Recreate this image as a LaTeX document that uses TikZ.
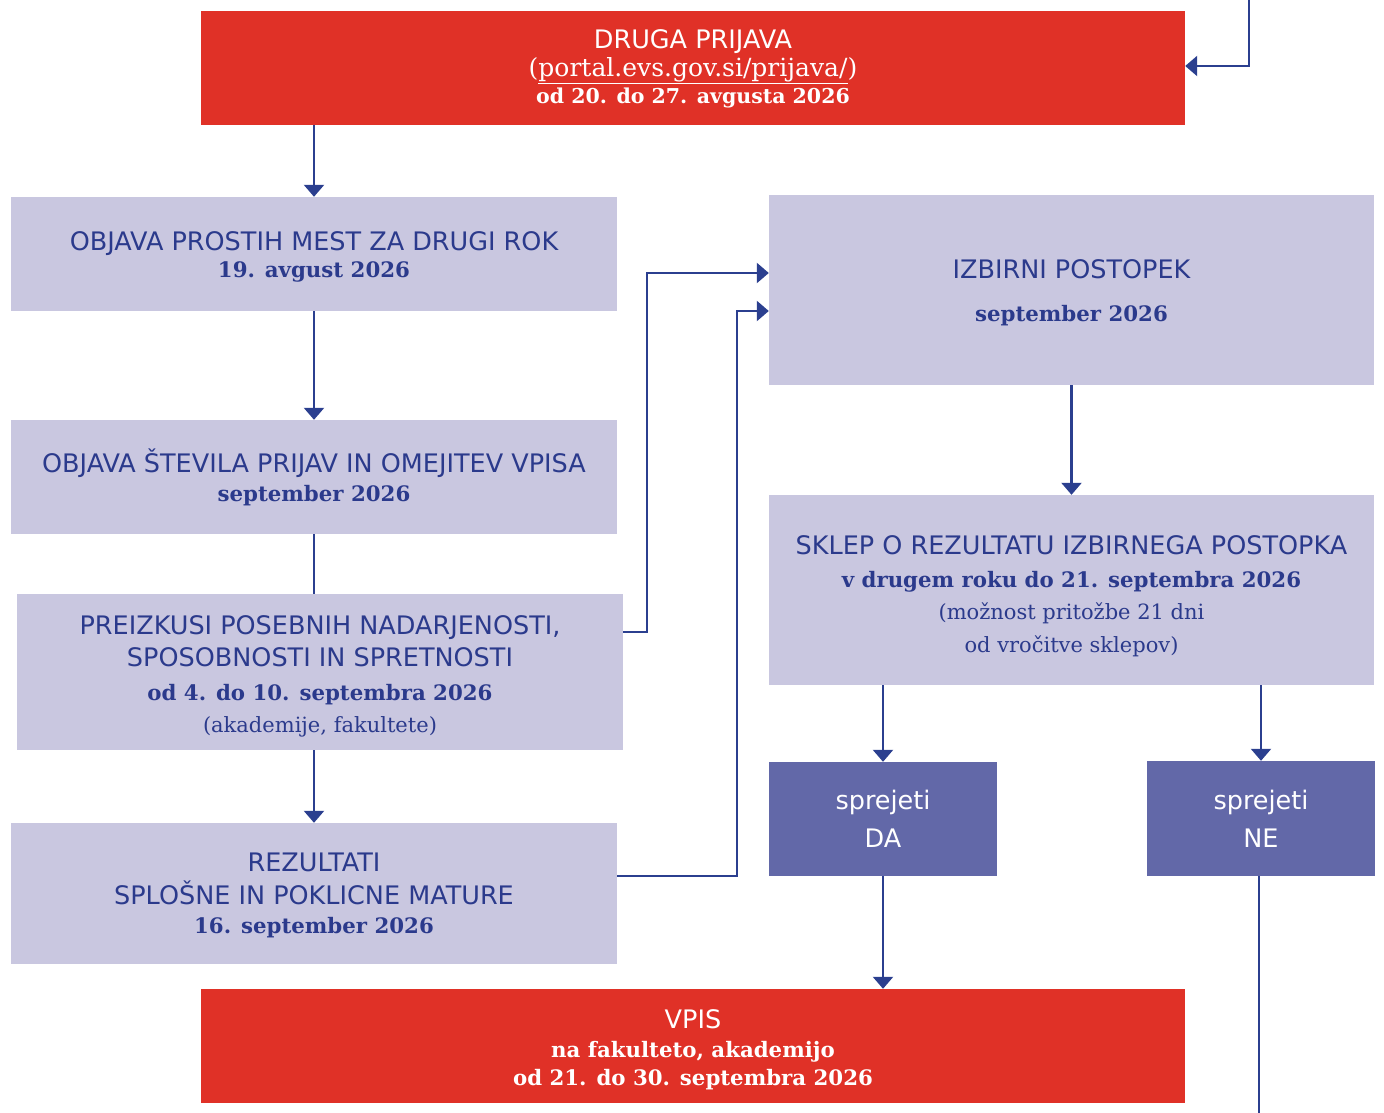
\documentclass[tikz,border=0pt]{standalone}
\usepackage{fontspec}
\setmainfont{DejaVu Serif}
\setsansfont{DejaVu Sans}
\usetikzlibrary{arrows.meta}
\definecolor{redbox}{HTML}{E03127}
\definecolor{lav}{HTML}{C9C7E0}
\definecolor{darkbox}{HTML}{6268A8}
\definecolor{navy}{HTML}{2B3F8F}
\definecolor{txt}{HTML}{2B3A8C}
\tikzset{
  x=1pt,y=-1pt,
  boxbase/.style={inner sep=0pt},
  redb/.style={boxbase,fill=redbox},
  lavb/.style={boxbase,fill=lav},
  darkb/.style={boxbase,fill=darkbox},
  txtbase/.style={inner sep=0pt,align=center,font=\fontsize{22}{29}\selectfont},
  wtxt/.style={txtbase,text=white},
  btxt/.style={txtbase,text=txt},
  conn/.style={draw=navy,line width=2.4pt},
  arr/.style={conn,-{Triangle[width=20pt,length=12pt]}},
}
\newcommand{\sfl}{\sffamily\fontsize{25.5}{29}\selectfont}
\newcommand{\sel}{\rmfamily\fontsize{21}{29}\selectfont}
\newcommand{\sbl}{\rmfamily\bfseries\fontsize{21.3}{29}\selectfont}
\newcommand{\linkfont}{\rmfamily\fontsize{25}{29}\selectfont}
\begin{document}
\begin{tikzpicture}
\useasboundingbox (0,0) rectangle (1384,1113);
% boxes
\node[redb,minimum width=984pt,minimum height=114pt] (drug) at (693,68) {};
\node[lavb,minimum width=606pt,minimum height=114pt] (obj1) at (314,254) {};
\node[lavb,minimum width=606pt,minimum height=114pt] (obj2) at (314,477) {};
\node[lavb,minimum width=606pt,minimum height=156pt] (prei) at (320,672) {};
\node[lavb,minimum width=606pt,minimum height=141pt] (rez) at (314,893.5) {};
\node[lavb,minimum width=605pt,minimum height=190pt] (izb) at (1071.5,290) {};
\node[lavb,minimum width=605pt,minimum height=190pt] (skl) at (1071.5,590) {};
\node[darkb,minimum width=228pt,minimum height=114pt] (da) at (883,819) {};
\node[darkb,minimum width=228pt,minimum height=115pt] (ne) at (1261,818.5) {};
\node[redb,minimum width=984pt,minimum height=114pt] (vpis) at (693,1046) {};
% texts
\node[wtxt] (drugt) at ([yshift=-1pt]drug.center)
  {\sfl DRUGA PRIJAVA\\[-1pt]\linkfont (\underline{portal.evs.gov.si/prijava/})\\[-2pt]\rmfamily\bfseries\fontsize{20.5}{29}\selectfont od 20. do 27. avgusta 2026};
\node[btxt] (obj1t) at ([yshift=-3pt]obj1.center)
  {\sfl OBJAVA PROSTIH MEST ZA DRUGI ROK\\[-2pt]\sbl 19. avgust 2026};
\node[btxt] (obj2t) at (obj2.center)
  {\sfl OBJAVA ŠTEVILA PRIJAV IN OMEJITEV VPISA\\[0pt]\sbl september 2026};
\node[btxt] (preit) at ([yshift=-4pt]prei.center)
  {\sfl PREIZKUSI POSEBNIH NADARJENOSTI,\\[3pt]\sfl SPOSOBNOSTI IN SPRETNOSTI\\[5pt]\sbl od 4. do 10. septembra 2026\\[3pt]\sel (akademije, fakultete)};
\node[btxt] (rezt) at ([yshift=-1.5pt]rez.center)
  {\sfl REZULTATI\\[4pt]\sfl SPLOŠNE IN POKLICNE MATURE\\\sbl 16. september 2026};
\node[btxt] (izbt) at ([yshift=-3pt]izb.center)
  {\sfl IZBIRNI POSTOPEK\\[14pt]\sbl september 2026};
\node[btxt] (sklt) at ([yshift=-6pt]skl.center)
  {\sfl SKLEP O REZULTATU IZBIRNEGA POSTOPKA\\[4pt]\sbl v drugem roku do 21. septembra 2026\\[3pt]\sel (možnost pritožbe 21 dni\\[4pt]\sel od vročitve sklepov)};
\node[wtxt] (dat) at (da.center)
  {\sfl sprejeti\\[9pt]\sfl DA};
\node[wtxt] (net) at (ne.center)
  {\sfl sprejeti\\[9pt]\sfl NE};
\node[wtxt] (vpist) at ([yshift=-3.5pt]vpis.center)
  {\sfl VPIS\\\sbl na fakulteto, akademijo\\[-1pt]\sbl od 21. do 30. septembra 2026};
% free ends
\coordinate (topin) at (1249,0);
\coordinate (nebot) at (1259,1113);
% connectors
\draw[arr] (topin) |- (drug.east |- 0,66);
\draw[arr] (drug.south -| 314,0) -- (obj1.north -| 314,0);
\draw[arr] (obj1.south -| 314,0) -- (obj2.north -| 314,0);
\draw[conn] (obj2.south -| 314,0) -- (prei.north -| 314,0);
\draw[arr] (prei.south -| 314,0) -- (rez.north -| 314,0);
\draw[arr] (prei.east |- 0,632) -| (647,273) -- (izb.west |- 0,273);
\draw[arr] (rez.east |- 0,876) -| (737,311) -- (izb.west |- 0,311);
\draw[arr] (izb.south) -- (skl.north);
\draw[arr] (skl.south -| da.north) -- (da.north);
\draw[arr] (skl.south -| ne.north) -- (ne.north);
\draw[arr] (da.south) -- (vpis.north -| da.south);
\draw[conn] (ne.south -| nebot) -- (nebot);
\end{tikzpicture}
\end{document}
